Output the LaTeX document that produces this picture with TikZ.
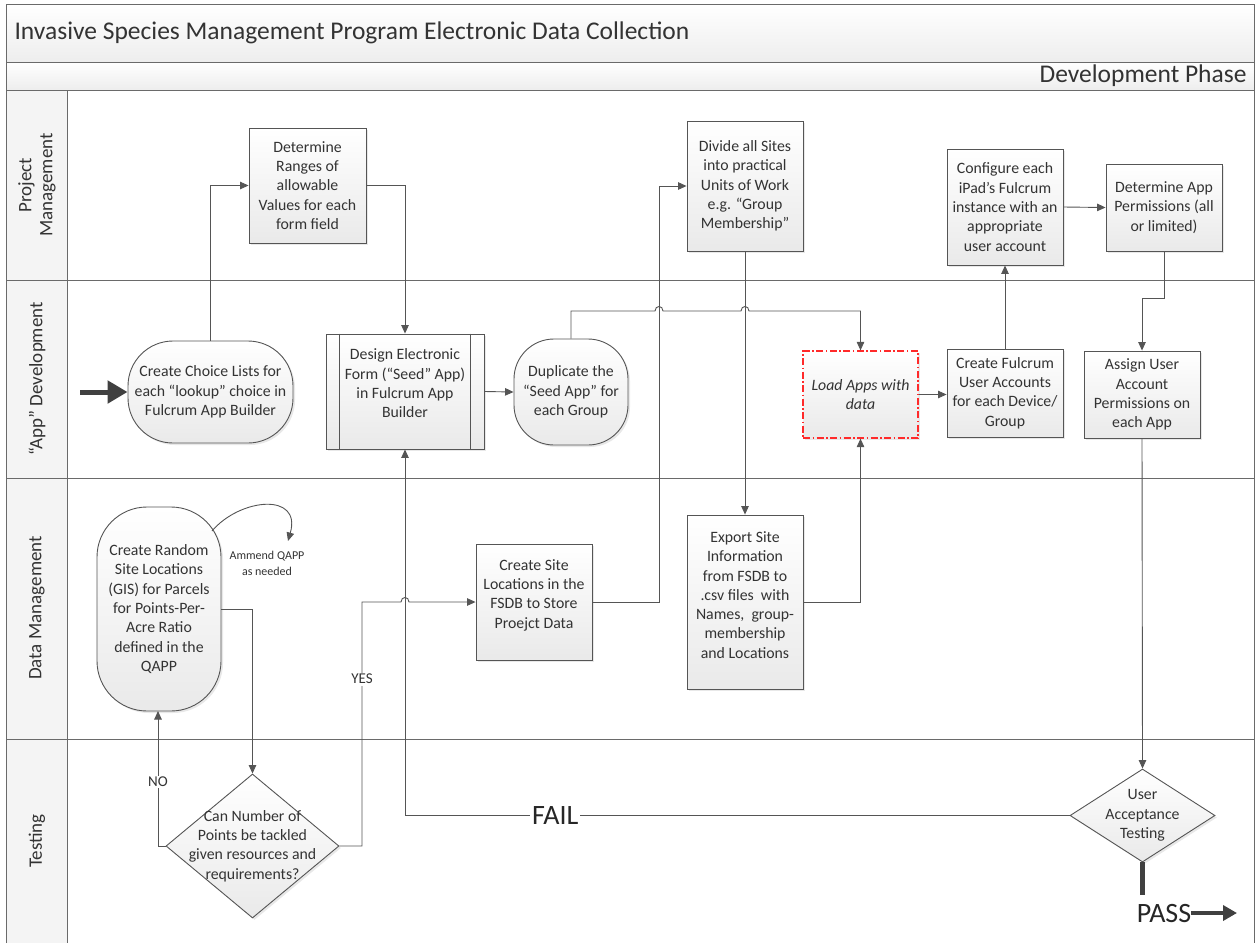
\documentclass[tikz,border=0pt]{standalone}
\usepackage{fontspec}
\setmainfont{Carlito}
\usetikzlibrary{arrows.meta,shapes.geometric,shadows}
\definecolor{linec}{HTML}{555555}
\definecolor{framec}{HTML}{6A6A6A}
\definecolor{txtc}{HTML}{333333}
\definecolor{darkc}{HTML}{404040}
\definecolor{dashred}{HTML}{FF2A2A}
\begin{document}
\begin{tikzpicture}[x=1pt,y=-1pt,
  nodefont/.style={font=\fontsize{15.8}{19.3}\selectfont},
  proc/.style={draw=linec, line width=0.9pt, top color=white, bottom color=gray!17, text=txtc, align=center, inner sep=2pt, nodefont, drop shadow={opacity=0.18, shadow xshift=2pt, shadow yshift=-2pt}},
  term/.style={proc, rounded corners=#1},
  decis/.style={proc, diamond, inner sep=0pt},
  inlbl/.style={nodefont, text=txtc, align=center},
  conn/.style={draw=linec, line width=0.9pt, -{Triangle[length=8.5pt,width=7.5pt]}},
  plain/.style={draw=linec, line width=0.9pt},
  lanel/.style={rotate=90, align=center, font=\fontsize{19}{21}\selectfont, text=txtc},
  edgelbl/.style={fill=white, text=txtc, inner sep=1.5pt, font=\fontsize{15}{17}\selectfont},
  biglbl/.style={text=black!85, inner sep=0pt, font=\fontsize{28}{30}\selectfont},
  frame/.style={draw=framec, line width=1pt},
]
\useasboundingbox (0,0) rectangle (1258,943);
% backgrounds
\fill[top color=white, bottom color=gray!14] (6,4) rectangle (1254,62);
\fill[top color=white, bottom color=gray!14] (6,62) rectangle (1254,90);
\fill[gray!9] (6,90) rectangle (67,943);
% frame and lanes
\draw[frame] (6,943) -- (6,4) -- (1254,4) -- (1254,943);
\draw[frame] (6,62) -- (1254,62);
\draw[frame] (6,90) -- (1254,90);
\draw[frame] (6,280) -- (1254,280);
\draw[frame] (6,478) -- (1254,478);
\draw[frame] (6,739) -- (1254,739);
\draw[frame] (67,90) -- (67,943);
% headers
\node[anchor=west, text=txtc, font=\fontsize{25.5}{27}\selectfont] (title) at (11,33) {Invasive Species Management Program Electronic Data Collection};
\node[anchor=east, text=txtc, font=\fontsize{25.5}{27}\selectfont] (phase) at (1250,76) {Development Phase};
\node[lanel] (lpm) at (37,185) {Project\\Management};
\node[lanel] (lapp) at (37,379) {“App” Development};
\node[lanel] (ldm) at (37,608) {Data Management};
\node[lanel] (lts) at (37,841) {Testing};

% nodes
\node[proc, minimum width=117pt, minimum height=115pt] (ranges) at (307.5,185.5) {Determine\\Ranges of\\allowable\\Values for each\\form field};
\node[proc, minimum width=116pt, minimum height=130pt] (divide) at (745,186) {Divide all Sites\\into practical\\Units of Work\\e.g. “Group\\Membership”};
\node[proc, minimum width=116pt, minimum height=116pt] (config) at (1005,207) {Configure each\\iPad’s Fulcrum\\instance with an\\appropriate\\user account};
\node[proc, minimum width=116pt, minimum height=87pt] (perm) at (1164,207.5) {Determine App\\Permissions (all\\or limited)};
\node[term=45pt, minimum width=165pt, minimum height=102pt] (choice) at (210.5,392) {Create Choice Lists for\\each “lookup” choice in\\Fulcrum App Builder};
\node[proc, minimum width=158pt, minimum height=115pt, label={[inlbl, yshift=8pt]center:{Design Electronic\\Form (“Seed” App)\\in Fulcrum App\\Builder}}] (design) at (405,391.5) {};
\draw[plain] ([xshift=14pt]design.north west) -- ([xshift=14pt]design.south west);
\draw[plain] ([xshift=-14pt]design.north east) -- ([xshift=-14pt]design.south east);
\node[term=40pt, minimum width=114pt, minimum height=106pt] (dup) at (571,392) {Duplicate the\\“Seed App” for\\each Group};
\node[proc, draw=dashred, line width=1.2pt, dash pattern=on 7pt off 2.5pt on 1.5pt off 2.5pt, minimum width=115pt, minimum height=87pt, font=\fontsize{15.8}{19.3}\selectfont\itshape] (load) at (860.5,394.5) {Load Apps with\\data};
\node[proc, minimum width=116pt, minimum height=88pt] (acct) at (1005,393) {Create Fulcrum\\User Accounts\\for each Device/\\Group};
\node[proc, minimum width=116pt, minimum height=87pt] (assign) at (1142,394.5) {Assign User\\Account\\Permissions on\\each App};
\node[term=50pt, minimum width=124pt, minimum height=204pt] (rand) at (159,609) {Create Random\\Site Locations\\(GIS) for Parcels\\for Points-Per-\\Acre Ratio\\defined in the\\QAPP};
\node[proc, minimum width=116pt, minimum height=116pt, label={[inlbl, yshift=7pt]center:{Create Site\\Locations in the\\FSDB to Store\\Proejct Data}}] (fsdb) at (534,602) {};
\node[proc, minimum width=116pt, minimum height=174pt, label={[inlbl, yshift=7pt]center:{Export Site\\Information\\from FSDB to\\.csv files \ with\\Names, \ group-\\membership\\and Locations}}] (export) at (745,602) {};
\node[decis, minimum width=173pt, minimum height=144pt, label={[inlbl]center:{Can Number of\\Points be tackled\\given resources and\\requirements?}}] (dec) at (252.5,846) {};
\node[decis, minimum width=145pt, minimum height=93pt, label={[inlbl]center:{User\\Acceptance\\Testing}}] (uat) at (1142.5,815.5) {};

% connectors
\coordinate (start) at (80,392);
\draw[draw=darkc, line width=5pt, -{Triangle[length=20pt,width=22pt]}] (start) -- (choice.west);
\draw[conn] (choice.north) |- (ranges.west);
\draw[conn] (ranges.east) -| (design.north);
\draw[conn] (design.east) -- (dup.west);
\draw[conn] (dup.north) |- (655,311) .. controls (655,305) and (663,305) .. (663,311) -- (741,311) .. controls (741,305) and (749,305) .. (749,311) -| (load.north);
\draw[conn] (fsdb.east) -- (659,602) |- (divide.west);
\draw[conn] (divide.south) -- (export.north);
\draw[conn] (export.east) -| (load.south);
\draw[conn] (load.east) -- (load.east -| acct.west);
\draw[conn] (acct.north) -- (config.south);
\draw[conn] (config.east) -- (perm.west);
\draw[conn] (perm.south) |- (1142,298) -- (assign.north);
\draw[conn] (assign.south) -- (uat.north);
\draw[conn] (uat.west) -- node[pos=0.774, fill=white, biglbl, inner xsep=2pt] {FAIL} (405,815.5) -- (design.south);
\draw[conn] (rand.east) -| (dec.north);
\draw[conn] (dec.west) -- (158,846) -- node[pos=0.474, edgelbl] {NO} (158,711);
\draw[conn] (dec.east) -- (362,846) -- node[pos=0.684, edgelbl] {YES} (362,602) -- (401,602) .. controls (401,596) and (409,596) .. (409,602) -- (fsdb.west);
% self loop
\coordinate (ls) at (212,531);
\coordinate (le) at (288,541);
\draw[conn] (ls) .. controls (240,498) and (302,492) .. (le);
\node[text=txtc, align=center, font=\fontsize{12}{16}\selectfont] (amend) at (267,563) {Ammend QAPP\\as needed};
% pass
\coordinate (passtop) at (1142.5,895);
\draw[draw=darkc, line width=5pt] (uat.south) -- (passtop);
\node[biglbl] (pass) at (1164,913) {PASS};
\coordinate (passend) at (1237,913);
\draw[draw=darkc, line width=4pt, -{Triangle[length=14pt,width=15pt]}] (pass.east) -- (passend);
\end{tikzpicture}
\end{document}
